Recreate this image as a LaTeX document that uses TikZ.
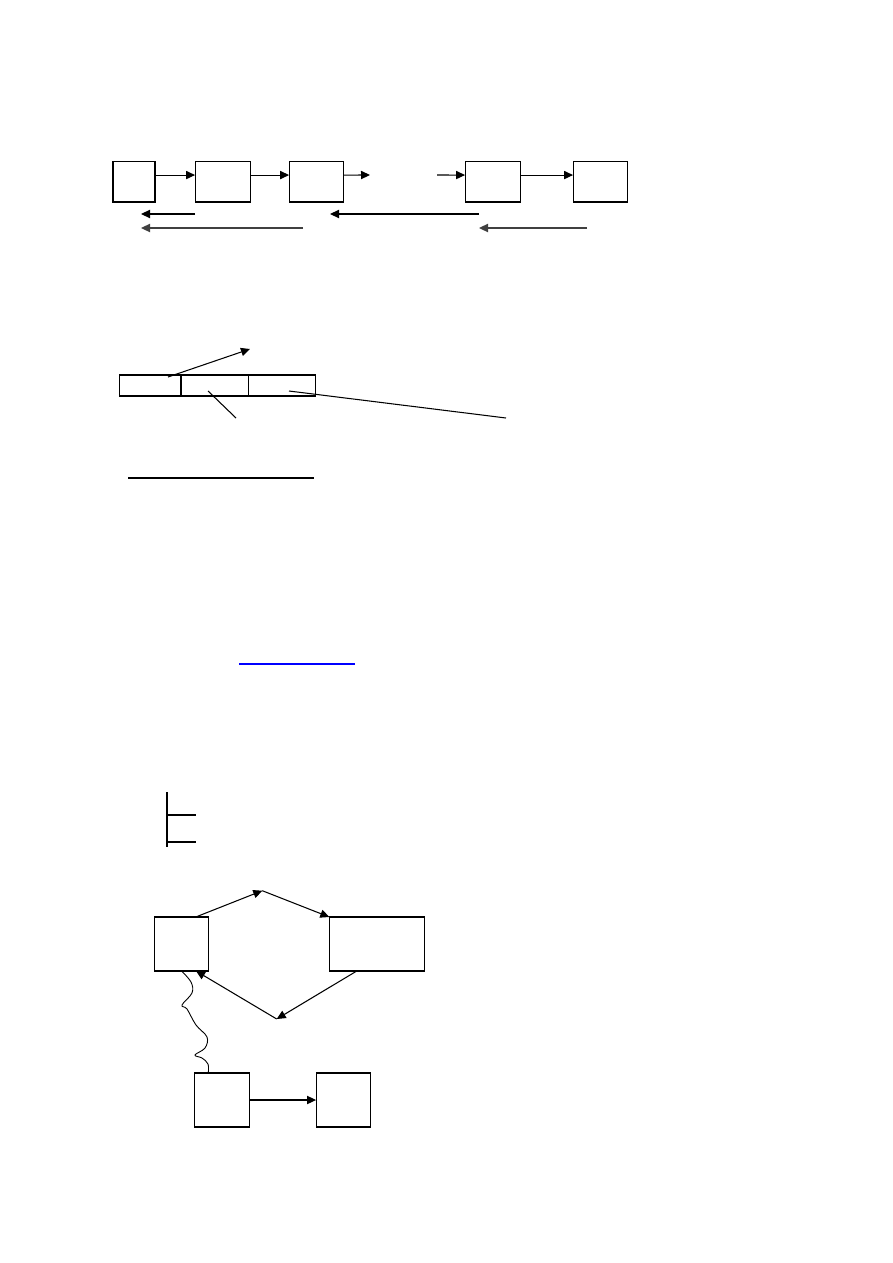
\documentclass[tikz,border=0pt]{standalone}
\usetikzlibrary{arrows.meta,positioning}

\begin{document}
\begin{tikzpicture}[x=0.6667pt, y=-0.6667pt, line width=0.7pt,
        >={Triangle[length=6pt,width=5.5pt]},
        box/.style={draw, rectangle, inner sep=0pt, outer sep=0pt, minimum height=27.3pt},
        cell/.style={draw, rectangle, inner sep=0pt, outer sep=0pt, minimum height=14pt}]
        \useasboundingbox (0,0) rectangle (893,1263);

        % chain of boxes
        \node[box, minimum width=28pt] (b1) at (134,181.5) {};
        \node[box, minimum width=36.7pt, right=26.7pt of b1] (b2) {};
        \node[box, minimum width=36pt, right=26pt of b2] (b3) {};
        \node[box, minimum width=36.7pt, right=81.3pt of b3] (b4) {};
        \node[box, minimum width=36pt, right=35.3pt of b4] (b5) {};
        \coordinate (gapl) at (370,175);
        \coordinate (gapr) at (437,175);

        \draw[->] ([yshift=4.3pt]b1.east) -- ([yshift=4.3pt]b2.west);
        \draw[->] ([yshift=4.3pt]b2.east) -- ([yshift=4.3pt]b3.west);
        \draw[->] ([yshift=4.3pt]b3.east) -- (gapl);
        \draw[->] (gapr) -- ([yshift=4.3pt]b4.west);
        \draw[->] ([yshift=4.3pt]b4.east) -- ([yshift=4.3pt]b5.west);

        % back arrows
        \coordinate (r1s) at (195,214);
        \coordinate (r1e) at (141,214);
        \coordinate (r2s) at (479,214);
        \coordinate (r2e) at (330,214);
        \coordinate (r3s) at (303,228);
        \coordinate (r3e) at (141,228);
        \coordinate (r4s) at (587,228);
        \coordinate (r4e) at (479,228);
        \draw[->] (r1s) -- (r1e);
        \draw[->] (r2s) -- (r2e);
        \draw[->, black!75, line width=0.9pt] (r3s) -- (r3e);
        \draw[->, black!75, line width=0.9pt] (r4s) -- (r4e);

        % three cells
        \node[cell, minimum width=41.3pt] (c1) at (150,385.5) {};
        \node[cell, minimum width=45.3pt, right=0pt of c1] (c2) {};
        \node[cell, minimum width=44.7pt, right=0pt of c2] (c3) {};
        \coordinate (p1) at (168,377);
        \coordinate (q1) at (250,349);
        \coordinate (p2) at (208,391);
        \coordinate (q2) at (236,418);
        \coordinate (p3) at (289,391);
        \coordinate (q3) at (506,418);
        \draw[->] (p1) -- (q1);
        \draw (p2) -- (q2);
        \draw (p3) -- (q3);
        \draw (128,478) -- (314,478);

        % link
        \draw[blue, line width=0.8pt] (239,664) -- (355,664);

        % bracket
        \draw (167,792) -- (167,847);
        \draw (167,815) -- (196,815);
        \draw (167,842) -- (196,842);

        % cycle
        \node[box, minimum width=36.3pt, minimum height=36pt] (A) at (181.5,944) {};
        \node[box, minimum width=63.6pt, minimum height=36pt, right=80.4pt of A] (B) {};
        \node[box, minimum width=36.7pt, minimum height=36pt] (C) at (221.8,1100) {};
        \node[box, minimum width=36.2pt, minimum height=36pt, right=44.5pt of C] (D) {};
        \coordinate (top) at (262.3,890.7);
        \coordinate (bot) at (276.7,1019);

        \draw[->] ([xshift=9.5pt]A.north) -- (top);
        \draw[->] (top) -- (B.north west);
        \draw[->] ([xshift=-13.5pt]B.south) -- (bot);
        \draw[->] (bot) -- ([xshift=9.7pt]A.south);
        \draw[line width=0.6pt] plot[smooth, tension=0.6] coordinates {(A.south) (191,982) (192,993) (182,1005) (187,1009)
                (196,1025) (207,1037) (205,1048) (195,1055) (202,1058) (208,1064) ([xshift=-9pt]C.north)};
        \draw[->] (C.east) -- (D.west);
\end{tikzpicture}
\end{document}
